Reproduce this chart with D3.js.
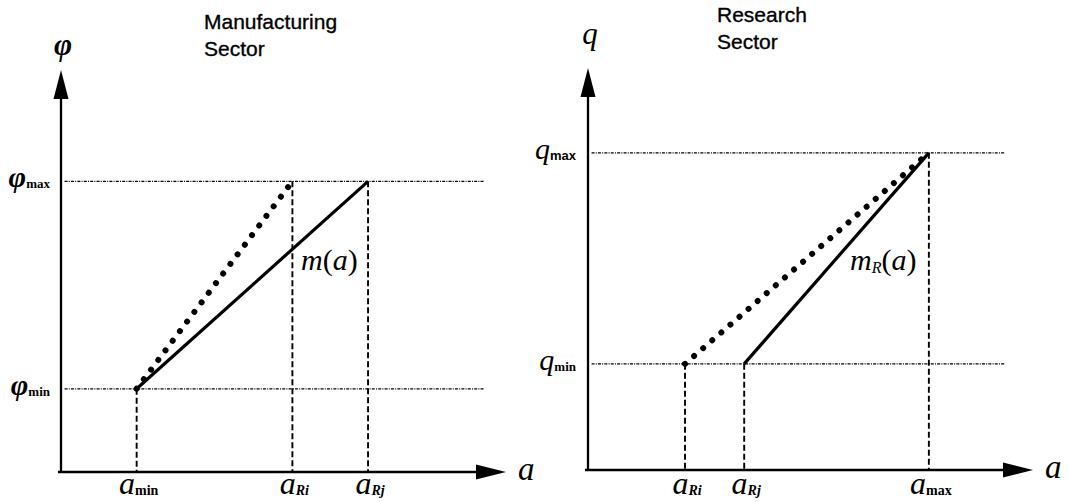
<!DOCTYPE html>
<html lang="en">
<head>
<meta charset="UTF-8" />
<title>Manufacturing / Research Sector</title>
<script src="https://d3js.org/d3.v7.min.js"></script>
<style>
    body { margin: 0; background: #fff; }
    svg { display: block; }
    .serif { font-family: "Liberation Serif", "Times New Roman", serif; }
    .sans { font-family: "Liberation Sans", Arial, sans-serif; }
</style>
</head>
<body>
<svg id="chart" width="1068" height="502"></svg>
<script>
    // --- Manufacturing sector (arbitrary units 0..10 on both axes) ---
    const mfgA = [1.7, 5.2, 6.9];                 // a_min, a_Ri, a_Rj
    const mfgALabels = [["a", "min"], ["a", "Ri"], ["a", "Rj"]];
    const mfgADrop = [2.07, 7.23, 7.23];          // where each dashed drop line starts
    const mfgPhi = [2.07, 7.23];                  // phi_min, phi_max
    const mfgPhiLabels = [["φ", "min"], ["φ", "max"]];
    const mfgSolid = [[1.7, 2.07], [6.9, 7.23]];  // m(a)
    const mfgDotted = [[1.7, 2.07], [5.2, 7.23]];
    const mfgGuideEnd = 9.5;

    // --- Research sector ---
    const resA = [2.18, 3.51, 7.66];              // a_Ri, a_Rj, a_max
    const resALabels = [["a", "Ri"], ["a", "Rj"], ["a", "max"]];
    const resADrop = [2.64, 2.64, 7.89];
    const resQ = [2.64, 7.89];                    // q_min, q_max
    const resQLabels = [["q", "min"], ["q", "max"]];
    const resSolid = [[3.51, 2.64], [7.66, 7.89]]; // m_R(a)
    const resDotted = [[2.18, 2.64], [7.66, 7.89]];
    const resGuideEnd = 9.37;

    const svg = d3.select("#chart");

    function drawPanel(p) {
        const x = d3.scaleLinear().domain([0, 10]).range(p.xRange);
        const y = d3.scaleLinear().domain([0, 10]).range(p.yRange);
        const g = svg.append("g");
        const x0 = x(0), y0 = y(0);

        // horizontal guide lines
        g.selectAll(".guide").data(p.yVals).join("line")
            .attr("x1", x(0.08)).attr("x2", x(p.guideEnd))
            .attr("y1", d => y(d)).attr("y2", d => y(d))
            .attr("stroke", "#000").attr("stroke-width", 1.3)
            .attr("stroke-dasharray", "3 1.2 1 1.2");

        // vertical dashed drop lines
        g.selectAll(".drop").data(p.xVals).join("line")
            .attr("x1", d => x(d)).attr("x2", d => x(d))
            .attr("y1", (d, i) => y(p.drops[i])).attr("y2", y0)
            .attr("stroke", "#000").attr("stroke-width", 1.9)
            .attr("stroke-dasharray", "6 3");

        const line = d3.line().x(d => x(d[0])).y(d => y(d[1]));
        g.append("path").datum(p.dotted).attr("d", line)
            .attr("fill", "none").attr("stroke", "#000").attr("stroke-width", 6)
            .attr("stroke-linecap", "round").attr("stroke-dasharray", "0.01 12");
        g.append("path").datum(p.solid).attr("d", line)
            .attr("fill", "none").attr("stroke", "#000").attr("stroke-width", 3.2);

        // axes with arrow heads
        const yTip = y(10), xTip = x(10);
        g.append("line").attr("x1", x0).attr("x2", x0).attr("y1", y0 + 1).attr("y2", yTip + 25)
            .attr("stroke", "#000").attr("stroke-width", 2.3);
        g.append("path").attr("d", `M${x0},${yTip}L${x0 - 7.5},${yTip + 29}L${x0 + 7.5},${yTip + 29}Z`);
        g.append("line").attr("x1", x0 - 3).attr("x2", xTip - 26).attr("y1", y0).attr("y2", y0)
            .attr("stroke", "#000").attr("stroke-width", 2.6);
        g.append("path").attr("d", `M${xTip},${y0}L${xTip - 30},${y0 - 7.5}L${xTip - 30},${y0 + 7.5}Z`);

        // axis names
        g.append("text").attr("class", "serif").attr("x", x0 + 2).attr("y", p.yNameY)
            .attr("text-anchor", "middle").attr("font-size", 31).attr("font-style", "italic")
            .attr("font-weight", p.yNameBold ? "bold" : "normal").text(p.yName);
        g.append("text").attr("class", "serif").attr("x", xTip + 12).attr("y", y0 + 8)
            .attr("font-size", 33).attr("font-style", "italic").text("a");

        // title
        const t = g.append("text").attr("class", "sans").attr("font-size", 21)
            .attr("stroke", "#000").attr("stroke-width", 0.35);
        p.title.forEach((s, i) => t.append("tspan").attr("x", p.titleX).attr("y", p.titleY + i * 27).text(s));

        // x tick labels
        p.xLabels.forEach((lab, i) => {
            const tx = g.append("text").attr("class", "serif").attr("x", x(p.xVals[i]) + 2).attr("y", 494)
                .attr("text-anchor", "middle");
            tx.append("tspan").attr("font-size", 32).attr("font-style", "italic").text(lab[0]);
            tx.append("tspan").attr("font-size", 14).attr("font-weight", "bold").attr("dy", 1)
                .attr("font-style", lab[1] === "min" || lab[1] === "max" ? "normal" : "italic").text(lab[1]);
        });

        // y tick labels
        p.yLabels.forEach((lab, i) => {
            const ty = g.append("text").attr("class", "serif").attr("x", x0 - p.yLabelGap).attr("y", y(p.yVals[i]) + 6)
                .attr("text-anchor", "end");
            ty.append("tspan").attr("font-size", 30).attr("font-style", "italic")
                .attr("font-weight", p.yNameBold ? "bold" : "normal").text(lab[0]);
            ty.append("tspan").attr("font-size", 13).attr("dy", 1)
                .attr("class", p.sansMax && lab[1] === "max" ? "sans" : "serif")
                .attr("font-weight", "bold").text(lab[1]);
        });

        // curve label
        const cl = g.append("text").attr("class", "serif").attr("x", p.curveLabel[0]).attr("y", p.curveLabel[1])
            .attr("font-size", 30);
        cl.append("tspan").attr("font-style", "italic").text("m");
        if (p.curveSub) cl.append("tspan").attr("font-size", 16).attr("font-style", "italic").attr("dy", 3).text(p.curveSub);
        cl.append("tspan").attr("dy", p.curveSub ? -3 : 0).text("(");
        cl.append("tspan").attr("font-style", "italic").text("a");
        cl.append("tspan").text(")");
    }

    drawPanel({
        xRange: [61, 506], yRange: [472, 70],
        xVals: mfgA, xLabels: mfgALabels, drops: mfgADrop,
        yVals: mfgPhi, yLabels: mfgPhiLabels,
        solid: mfgSolid, dotted: mfgDotted, guideEnd: mfgGuideEnd,
        yName: "φ", yNameBold: true, yNameY: 55, yLabelGap: 11,
        title: ["Manufacturing", "Sector"], titleX: 204, titleY: 29,
        curveLabel: [301, 270], curveSub: null, sansMax: false
    });

    drawPanel({
        xRange: [588, 1033], yRange: [470, 68],
        xVals: resA, xLabels: resALabels, drops: resADrop,
        yVals: resQ, yLabels: resQLabels,
        solid: resSolid, dotted: resDotted, guideEnd: resGuideEnd,
        yName: "q", yNameBold: false, yNameY: 44, yLabelGap: 12,
        title: ["Research", "Sector"], titleX: 717, titleY: 22,
        curveLabel: [850, 270], curveSub: "R", sansMax: true
    });
</script>
</body>
</html>
